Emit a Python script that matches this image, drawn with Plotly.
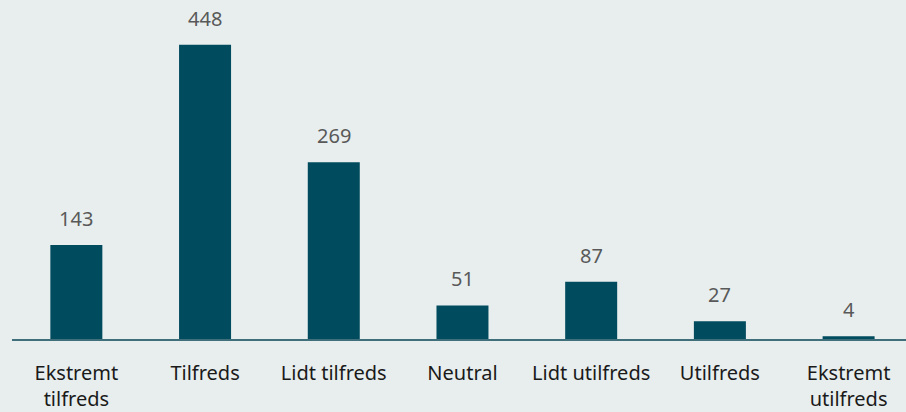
import plotly.graph_objects as go

# --- Data ---
categories = ["Ekstremt<br>tilfreds", "Tilfreds", "Lidt tilfreds", "Neutral",
              "Lidt utilfreds", "Utilfreds", "Ekstremt<br>utilfreds"]
counts = [143, 448, 269, 51, 87, 27, 4]

bar_color = "#004B5E"
bg = "#E8EEEE"

fig = go.Figure()
fig.add_trace(go.Bar(
    x=categories, y=counts,
    marker=dict(color=bar_color, line_width=0),
    showlegend=False,
))

# value labels above the bars
for c, v in zip(categories, counts):
    fig.add_annotation(
        x=c, y=v, text=str(v), showarrow=False,
        yanchor="bottom", yshift=11,
        font=dict(family="Noto Sans", size=20, color="#595959"),
    )

fig.update_layout(
    width=906, height=412,
    paper_bgcolor=bg, plot_bgcolor=bg,
    bargap=0.596,
    margin=dict(l=12, r=0, t=0, b=71),
    font=dict(family="Noto Sans", size=20, color="#1a1a1a"),
)

fig.update_xaxes(
    showline=True, linecolor="#3F6F7A", linewidth=1.5,
    showgrid=False, ticks="", ticklabelstandoff=15,
    range=[-0.5, 6.446],
    tickfont=dict(family="Noto Sans", size=20, color="#1a1a1a"),
)
fig.update_yaxes(visible=False, range=[0, 516], showgrid=False, zeroline=False)

# page has no margin so the figure fills the window
fig.write_html(
    "out.html",
    config={"displayModeBar": False},
    post_script="document.body.style.margin='0';"
                "document.body.style.background='%s';"
                "document.body.style.overflow='hidden';" % bg,
)
